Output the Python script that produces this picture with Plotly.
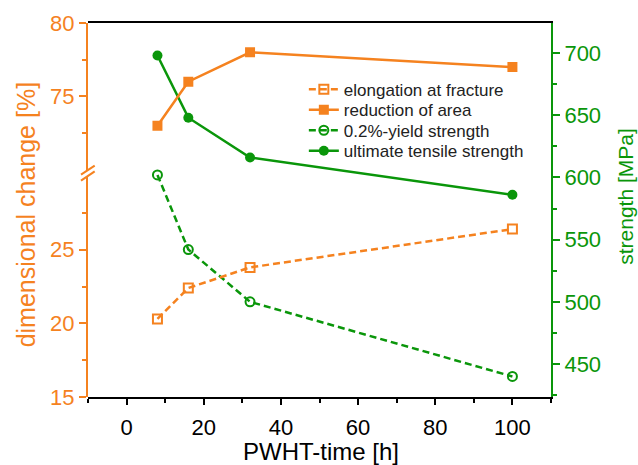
import plotly.graph_objects as go

# ---- data ----
pwht_time = [8, 16, 32, 100]
elongation = [20.3, 22.4, 23.8, 26.4]          # %
reduction_area = [73.0, 76.0, 78.0, 77.0]      # %
yield_strength = [602, 542, 500, 440]          # MPa
uts = [698, 648, 616, 586]                     # MPa

x_ticks = [0, 20, 40, 60, 80, 100]
low_ticks = [15, 20, 25]
high_ticks = [75, 80]
strength_ticks = [450, 500, 550, 600, 650, 700]

ORANGE = "#F5821F"
GREEN = "#0A960A"
FONT = "Liberation Sans, Arial, sans-serif"

fig = go.Figure()
fig.add_trace(go.Scatter(
    x=pwht_time, y=elongation, yaxis="y2", mode="lines+markers",
    name="elongation at fracture", legend="legend",
    line=dict(color=ORANGE, width=2.5, dash="7px,4px"),
    marker=dict(symbol="square-open", size=9, color=ORANGE, line=dict(width=2, color=ORANGE))))
fig.add_trace(go.Scatter(
    x=pwht_time, y=reduction_area, yaxis="y3", mode="lines+markers",
    name="reduction of area", legend="legend2",
    line=dict(color=ORANGE, width=2.5),
    marker=dict(symbol="square", size=10, color=ORANGE)))
fig.add_trace(go.Scatter(
    x=pwht_time, y=yield_strength, yaxis="y", mode="lines+markers",
    name="0.2%-yield strength", legend="legend3",
    line=dict(color=GREEN, width=2.5, dash="7px,4px"),
    marker=dict(symbol="circle-open", size=9, color=GREEN, line=dict(width=2, color=GREEN))))
fig.add_trace(go.Scatter(
    x=pwht_time, y=uts, yaxis="y", mode="lines+markers",
    name="ultimate tensile strength", legend="legend4",
    line=dict(color=GREEN, width=2.5),
    marker=dict(symbol="circle", size=10, color=GREEN)))

# pixel -> paper helpers
W = 462.7
H = 374.0
def px(dx):
    return dx / W
def pxa(xpix):
    return (xpix - 88.3) / W
def py(ypix):
    return (397.3 - ypix) / H

shapes = [
    dict(type="path", xref="paper", yref="paper", layer="above",
         path=f"M {px(-7)},{py(175)} L {px(6.7)},{py(166)} L {px(6.7)},{py(171.7)} L {px(-7)},{py(181)} Z",
         fillcolor="white", line=dict(width=0)),
    dict(type="line", xref="paper", yref="paper", layer="above",
         x0=px(-7), y0=py(175), x1=px(6.7), y1=py(166), line=dict(color=ORANGE, width=2)),
    dict(type="line", xref="paper", yref="paper", layer="above",
         x0=px(-7), y0=py(181), x1=px(6.7), y1=py(171.7), line=dict(color=ORANGE, width=2)),
]

def leg(row_y):
    return dict(x=pxa(304), y=py(row_y), xanchor="left", yanchor="middle",
                bgcolor="rgba(0,0,0,0)", font=dict(size=17, color="#222", family=FONT))

fig.update_layout(
    width=638, height=465,
    margin=dict(l=88, r=87, t=23, b=68, autoexpand=False),
    paper_bgcolor="white", plot_bgcolor="rgba(0,0,0,0)",
    font=dict(family=FONT, size=22, color="black"),
    showlegend=True,
    legend=leg(90), legend2=leg(110.5), legend3=leg(131), legend4=leg(151.5),
    xaxis=dict(domain=[0, 1], anchor="y", range=[-10, 110], automargin=False,
               tickvals=x_ticks, ticks="outside", ticklen=6, tickwidth=2, tickcolor="black",
               minor=dict(dtick=10, ticks="outside", ticklen=4, tickwidth=2, tickcolor="black"),
               showline=True, linecolor="black", linewidth=2, mirror=True,
               showgrid=False, zeroline=False, ticklabelstandoff=4,
               tickfont=dict(size=22, color="black")),
    yaxis=dict(domain=[0, 1], anchor="x", side="right", range=[423.5, 724.1], automargin=False,
               tickvals=strength_ticks, ticks="outside", ticklen=7, tickwidth=2, tickcolor=GREEN,
               minor=dict(dtick=25, ticks="outside", ticklen=4, tickwidth=2, tickcolor=GREEN),
               showline=True, linecolor=GREEN, linewidth=2,
               showgrid=False, zeroline=False,
               tickfont=dict(size=22, color=GREEN)),
    yaxis2=dict(domain=[0, 0.5907], anchor="x", side="left", range=[15, 30], automargin=False,
                tickvals=low_ticks, ticks="outside", ticklen=7, tickwidth=2, tickcolor=ORANGE,
                minor=dict(tickvals=[17.5, 22.5, 27.5], ticks="outside", ticklen=4, tickwidth=2, tickcolor=ORANGE),
                showline=True, linecolor=ORANGE, linewidth=2,
                showgrid=False, zeroline=False,
                tickfont=dict(size=22, color=ORANGE)),
    yaxis3=dict(domain=[0.6075, 1], anchor="x", side="left", range=[70, 80], automargin=False,
                tickvals=high_ticks, ticks="outside", ticklen=7, tickwidth=2, tickcolor=ORANGE,
                minor=dict(tickvals=[72.5, 77.5], ticks="outside", ticklen=4, tickwidth=2, tickcolor=ORANGE),
                showline=True, linecolor=ORANGE, linewidth=2,
                showgrid=False, zeroline=False,
                tickfont=dict(size=22, color=ORANGE)),
    shapes=shapes,
    annotations=[
        dict(text="dimensional change [%]", xref="paper", yref="paper",
             x=pxa(26), y=py(215), textangle=-90, showarrow=False,
             xanchor="center", yanchor="middle",
             font=dict(size=25, color=ORANGE, family=FONT)),
        dict(text="strength [MPa]", xref="paper", yref="paper",
             x=pxa(626), y=py(197), textangle=-90, showarrow=False,
             xanchor="center", yanchor="middle",
             font=dict(size=21, color=GREEN, family=FONT)),
        dict(text="PWHT-time [h]", xref="paper", yref="paper",
             x=pxa(321), y=py(452), showarrow=False,
             xanchor="center", yanchor="middle",
             font=dict(size=24, color="black", family=FONT)),
    ],
)

fig.write_html("out.html")
